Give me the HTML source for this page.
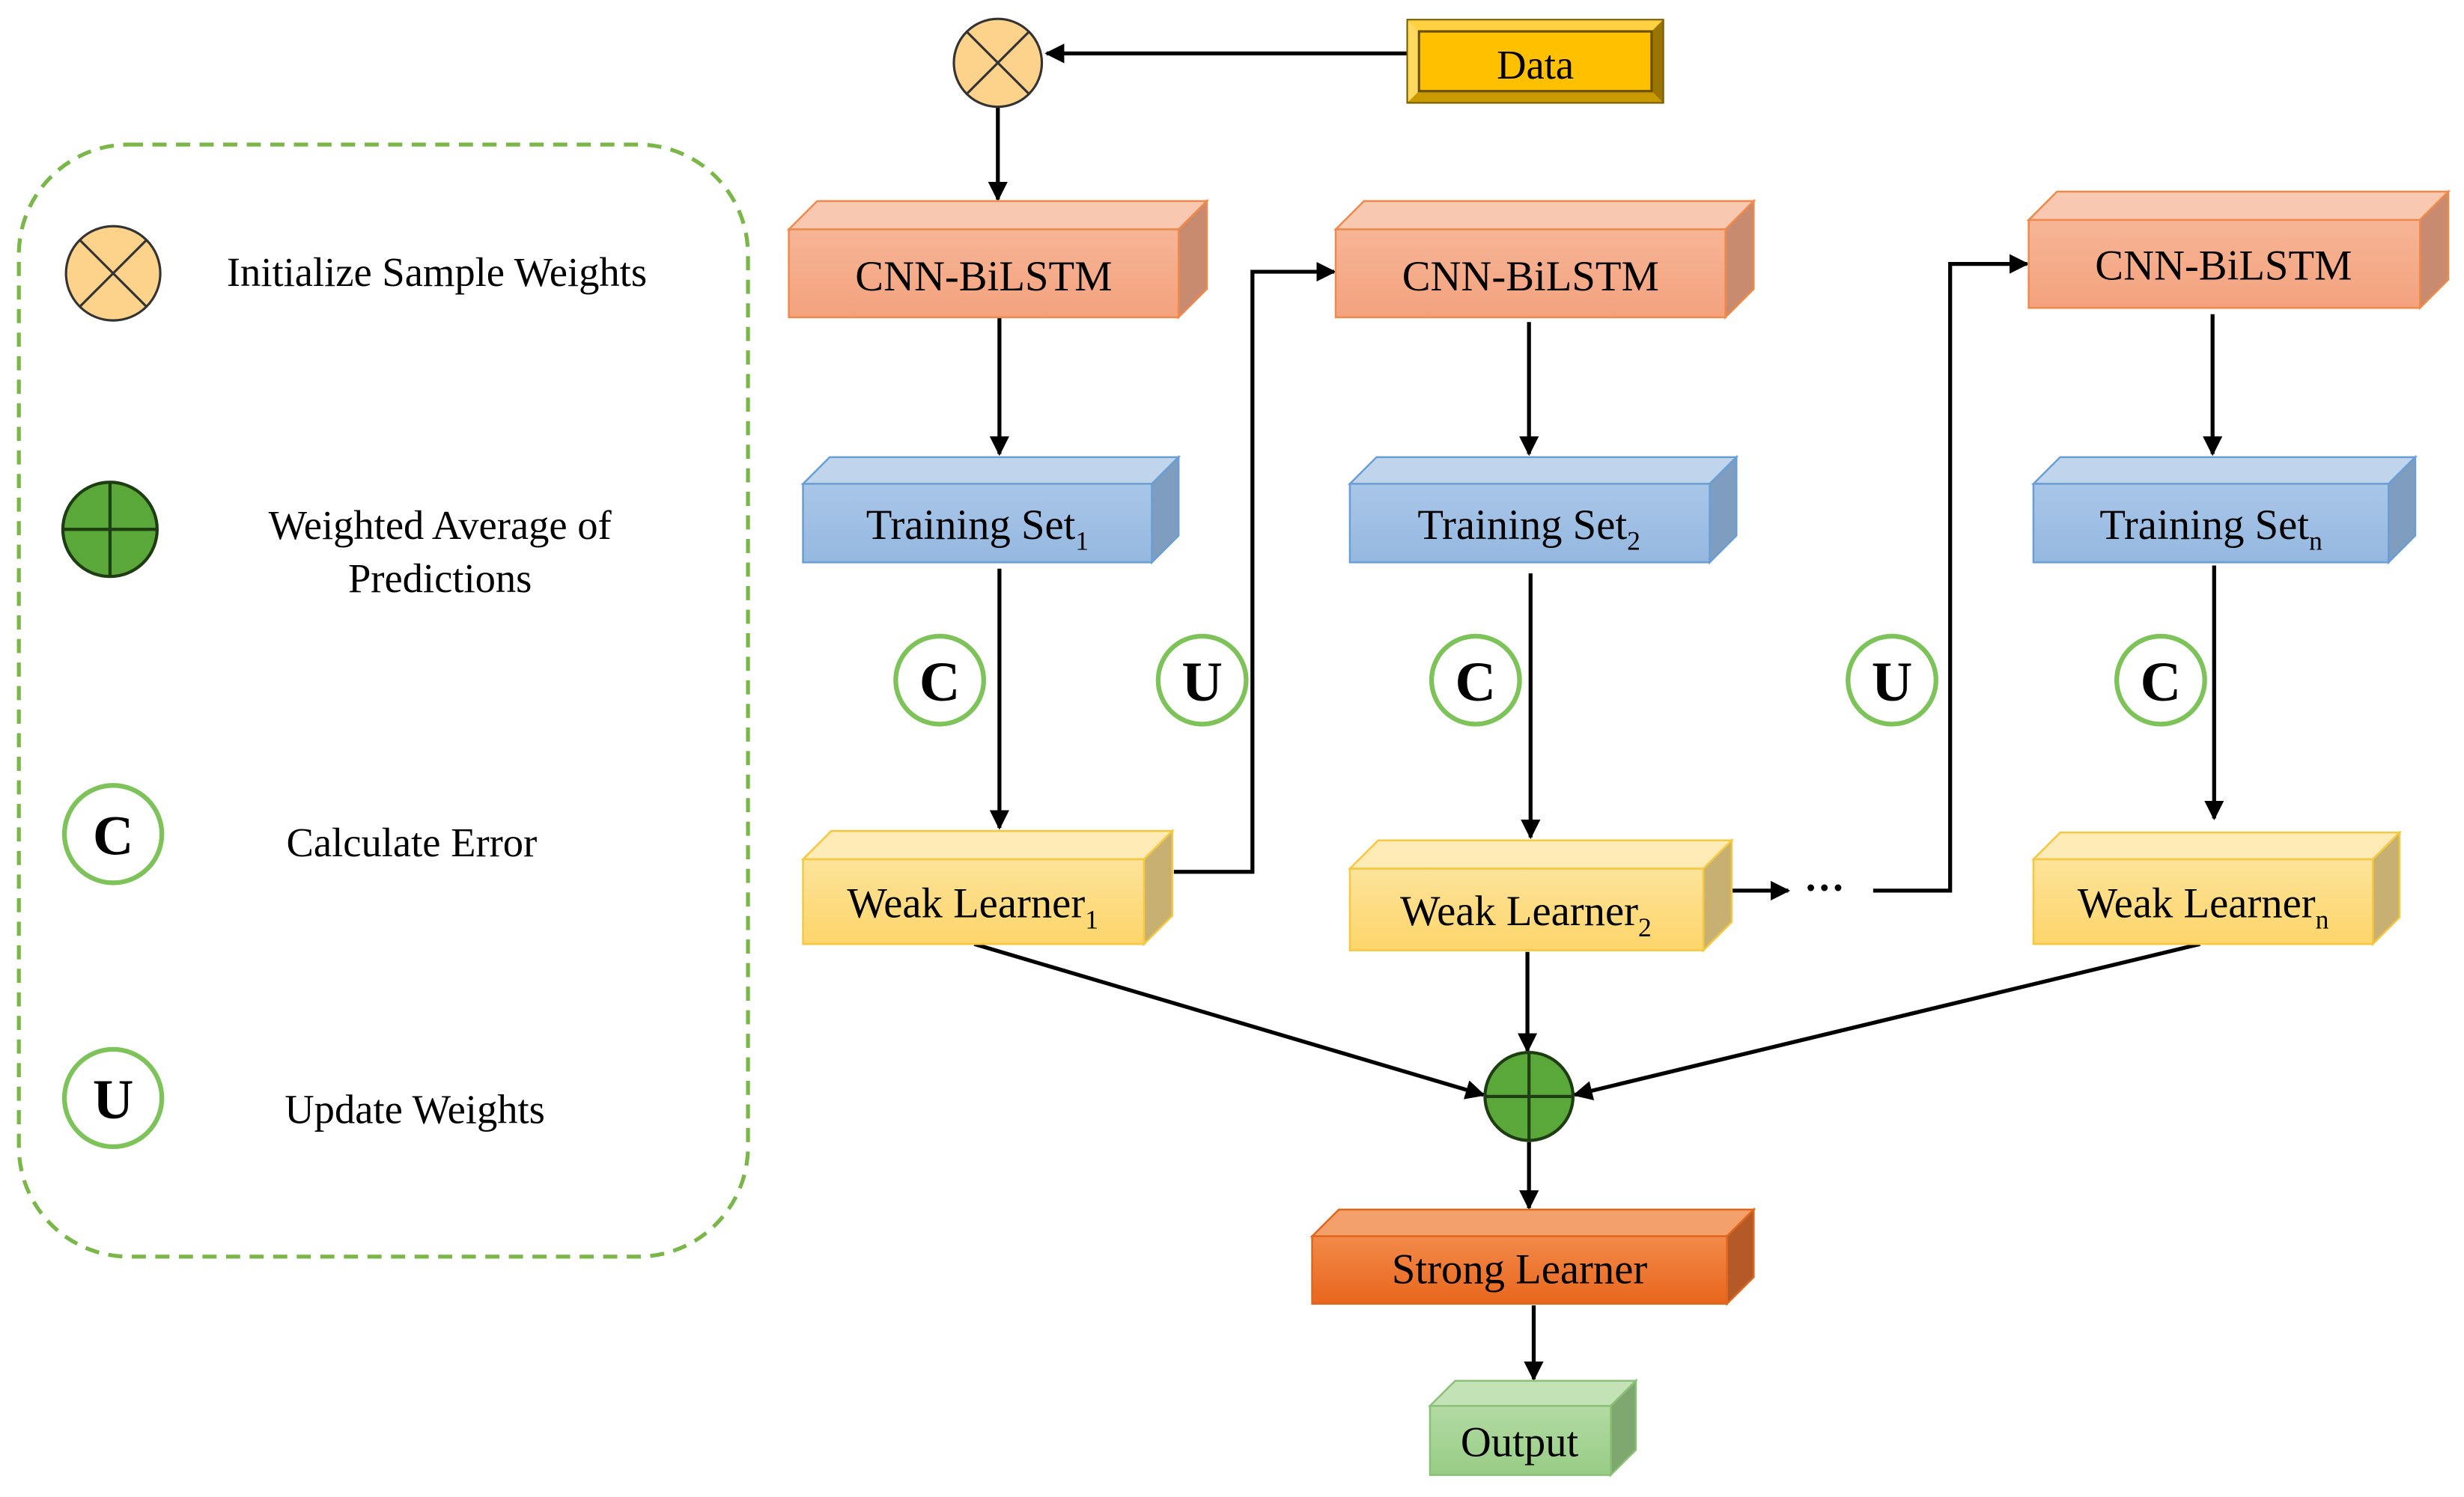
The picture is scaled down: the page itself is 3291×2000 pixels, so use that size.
<!DOCTYPE html>
<html><head><meta charset="utf-8"><style>html,body{margin:0;padding:0;background:#fff}svg{display:block}svg text{font-family:"Liberation Serif","Times New Roman",serif}</style></head><body>
<svg width="3291" height="2000" viewBox="0 0 1568 953" preserveAspectRatio="none" xmlns="http://www.w3.org/2000/svg">
<defs>
<marker id="ah" viewBox="0 0 10 10" refX="9" refY="5" markerWidth="5" markerHeight="5" orient="auto"><path d="M0,0 L10,5 L0,10 z" fill="#000"/></marker>
<linearGradient id="gc" x1="0" y1="0" x2="0" y2="1"><stop offset="0" stop-color="#f6b596"/><stop offset="1" stop-color="#f4a27d"/></linearGradient>
<linearGradient id="gt" x1="0" y1="0" x2="0" y2="1"><stop offset="0" stop-color="#a9c6e8"/><stop offset="1" stop-color="#95b8e0"/></linearGradient>
<linearGradient id="gw" x1="0" y1="0" x2="0" y2="1"><stop offset="0" stop-color="#fde39a"/><stop offset="1" stop-color="#fdd56a"/></linearGradient>
<linearGradient id="gs" x1="0" y1="0" x2="0" y2="1"><stop offset="0" stop-color="#f28a4a"/><stop offset="1" stop-color="#e8661c"/></linearGradient>
<linearGradient id="go" x1="0" y1="0" x2="0" y2="1"><stop offset="0" stop-color="#b3dba4"/><stop offset="1" stop-color="#98cc85"/></linearGradient>
</defs>

<rect x="12" y="92" width="464" height="708" rx="70" fill="none" stroke="#7ab648" stroke-width="2.5" stroke-dasharray="9,6"/>
<circle cx="72" cy="174" r="30" fill="#fdd28a" stroke="#333" stroke-width="1.5"/>
<path d="M51,153 L93,195 M93,153 L51,195" stroke="#333" stroke-width="1.5"/>
<text x="278" y="182" font-size="26" text-anchor="middle">Initialize Sample Weights</text>
<circle cx="70" cy="337" r="30" fill="#5aa83a" stroke="#1e3d12" stroke-width="2"/>
<path d="M40,337 H100 M70,307 V367" stroke="#1e3d12" stroke-width="2"/>
<text x="280" y="343" font-size="26" text-anchor="middle">Weighted Average of</text>
<text x="280" y="377" font-size="26" text-anchor="middle">Predictions</text>
<circle cx="72" cy="531" r="31" fill="#fff" stroke="#7dc35a" stroke-width="3"/>
<text x="72" y="544" font-size="36" font-weight="bold" text-anchor="middle">C</text>
<text x="262" y="545" font-size="26" text-anchor="middle">Calculate Error</text>
<circle cx="72" cy="699" r="31" fill="#fff" stroke="#7dc35a" stroke-width="3"/>
<text x="72" y="712" font-size="36" font-weight="bold" text-anchor="middle">U</text>
<text x="264" y="715" font-size="26" text-anchor="middle">Update Weights</text>

<g stroke="#000" stroke-width="2.5" fill="none" marker-end="url(#ah)">
<path d="M896,34 H666"/>
<path d="M635,68 V127"/>
<path d="M636,202 V289"/>
<path d="M636,362 V527"/>
<path d="M747,555 H797 V173 H849"/>
<path d="M973,205 V289"/>
<path d="M974,365 V533"/>
<path d="M1102,567 H1138"/>
<path d="M1192,567 H1241 V168 H1290"/>
<path d="M1408,200 V289"/>
<path d="M1409,360 V521"/>
<path d="M620,601 L944,697"/>
<path d="M972,606 V669"/>
<path d="M1400,601 L1002,697"/>
<path d="M973,727 V769"/>
<path d="M976,831 V878"/>
</g>
<text x="1161" y="574" font-size="26" text-anchor="middle" font-weight="bold">···</text>

<circle cx="635" cy="40" r="28" fill="#fdd28a" stroke="#333" stroke-width="1.5"/>
<path d="M615,20 L655,60 M655,20 L615,60" stroke="#333" stroke-width="1.5"/>
<circle cx="973" cy="698" r="28" fill="#5aa83a" stroke="#1e3d12" stroke-width="2"/>
<path d="M945,698 H1001 M973,670 V726" stroke="#1e3d12" stroke-width="2"/>

<rect x="896" y="13" width="162" height="52" fill="#ffc000" stroke="#7a5c00" stroke-width="2"/>
<polygon points="896,13 1058,13 1051,20 903,20" fill="#ffd040"/>
<polygon points="896,13 903,20 903,58 896,65" fill="#ffd860"/>
<polygon points="1058,13 1058,65 1051,58 1051,20" fill="#9a7400"/>
<polygon points="896,65 1058,65 1051,58 903,58" fill="#c99a00"/>
<rect x="903" y="20" width="148" height="38" fill="#ffc000" stroke="#6a5000" stroke-width="1.5"/>
<text x="977" y="50" font-size="26" text-anchor="middle">Data</text>

<g stroke-width="1.2">
<g stroke="#ef8a4c">
<polygon points="502,146 520,128 768,128 750,146" fill="#f8c8b0"/><polygon points="750,146 768,128 768,184 750,202" fill="#c98b70"/><rect x="502" y="146" width="248" height="56" fill="url(#gc)"/>
<polygon points="850,146 868,128 1116,128 1098,146" fill="#f8c8b0"/><polygon points="1098,146 1116,128 1116,184 1098,202" fill="#c98b70"/><rect x="850" y="146" width="248" height="56" fill="url(#gc)"/>
<polygon points="1291,140 1309,122 1558,122 1540,140" fill="#f8c8b0"/><polygon points="1540,140 1558,122 1558,178 1540,196" fill="#c98b70"/><rect x="1291" y="140" width="249" height="56" fill="url(#gc)"/>
</g>
<g stroke="#6a9fd6">
<polygon points="511,308 528,291 750,291 733,308" fill="#c0d5ec"/><polygon points="733,308 750,291 750,341 733,358" fill="#7f9dbf"/><rect x="511" y="308" width="222" height="50" fill="url(#gt)"/>
<polygon points="859,308 876,291 1105,291 1088,308" fill="#c0d5ec"/><polygon points="1088,308 1105,291 1105,341 1088,358" fill="#7f9dbf"/><rect x="859" y="308" width="229" height="50" fill="url(#gt)"/>
<polygon points="1294,308 1311,291 1537,291 1520,308" fill="#c0d5ec"/><polygon points="1520,308 1537,291 1537,341 1520,358" fill="#7f9dbf"/><rect x="1294" y="308" width="226" height="50" fill="url(#gt)"/>
</g>
<g stroke="#f5c842">
<polygon points="511,547 529,529 746,529 728,547" fill="#feebb5"/><polygon points="728,547 746,529 746,583 728,601" fill="#c8b072"/><rect x="511" y="547" width="217" height="54" fill="url(#gw)"/>
<polygon points="859,553 877,535 1102,535 1084,553" fill="#feebb5"/><polygon points="1084,553 1102,535 1102,587 1084,605" fill="#c8b072"/><rect x="859" y="553" width="225" height="52" fill="url(#gw)"/>
<polygon points="1294,547 1311,530 1527,530 1510,547" fill="#feebb5"/><polygon points="1510,547 1527,530 1527,584 1510,601" fill="#c8b072"/><rect x="1294" y="547" width="216" height="54" fill="url(#gw)"/>
</g>
<g stroke="#e0661e">
<polygon points="835,787 852,770 1116,770 1099,787" fill="#f3a06a"/><polygon points="1099,787 1116,770 1116,813 1099,830" fill="#b35a28"/><rect x="835" y="787" width="264" height="43" fill="url(#gs)"/>
</g>
<g stroke="#8cc078">
<polygon points="910,895 926,879 1041,879 1025,895" fill="#c3e2b6"/><polygon points="1025,895 1041,879 1041,923 1025,939" fill="#7fa870"/><rect x="910" y="895" width="115" height="44" fill="url(#go)"/>
</g>
</g>

<g font-size="27" text-anchor="middle">
<text x="626" y="185">CNN-BiLSTM</text>
<text x="974" y="185">CNN-BiLSTM</text>
<text x="1415" y="178">CNN-BiLSTM</text>
<text x="622" y="343">Training Set<tspan font-size="17" dy="7">1</tspan></text>
<text x="973" y="343">Training Set<tspan font-size="17" dy="7">2</tspan></text>
<text x="1407" y="343">Training Set<tspan font-size="17" dy="7">n</tspan></text>
<text x="619" y="584">Weak Learner<tspan font-size="17" dy="7">1</tspan></text>
<text x="971" y="589">Weak Learner<tspan font-size="17" dy="7">2</tspan></text>
<text x="1402" y="584">Weak Learner<tspan font-size="17" dy="7">n</tspan></text>
<text x="967" y="817">Strong Learner</text>
<text x="967" y="927">Output</text>
</g>

<g fill="#fff" stroke="#7dc35a" stroke-width="3">
<circle cx="598" cy="433" r="28"/><circle cx="765" cy="433" r="28"/><circle cx="939" cy="433" r="28"/><circle cx="1204" cy="433" r="28"/><circle cx="1375" cy="433" r="28"/>
</g>
<g font-size="36" font-weight="bold" text-anchor="middle">
<text x="598" y="446">C</text><text x="765" y="446">U</text><text x="939" y="446">C</text><text x="1204" y="446">U</text><text x="1375" y="446">C</text>
</g>
</svg>
</body></html>
